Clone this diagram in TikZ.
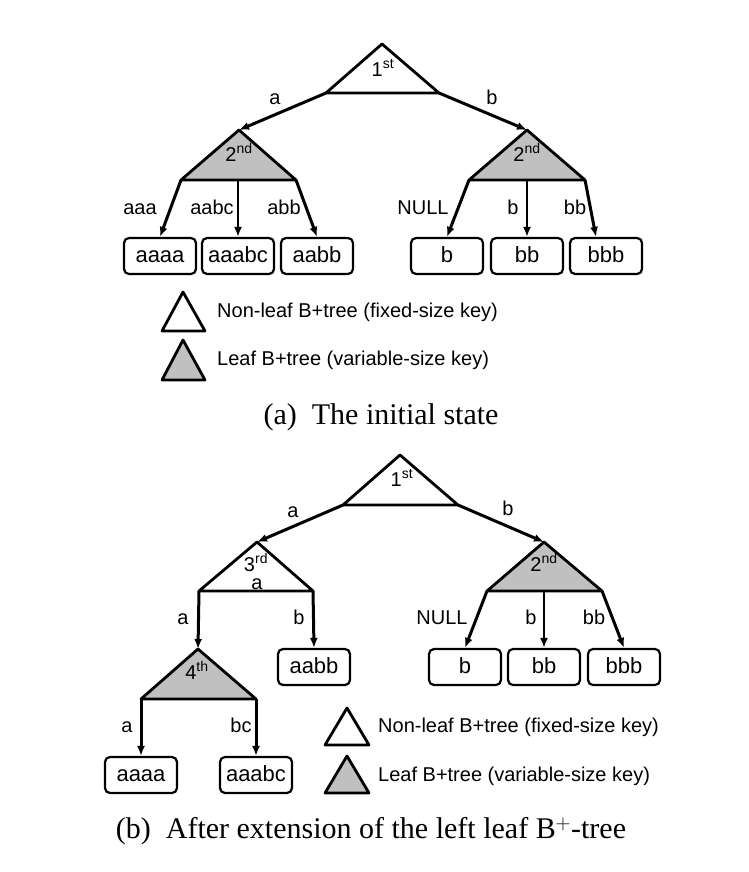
\documentclass[tikz,border=0pt]{standalone}
\usepackage{fontspec}
\newfontfamily\arialfont{Liberation Sans}
\newfontfamily\captfont{Liberation Serif}
\usepackage{tikz}
\usetikzlibrary{arrows.meta,positioning,calc}
\definecolor{trigray}{RGB}{192,192,192}
\tikzset{
  keybox/.style={draw, line width=2.2pt, rounded corners=5pt, minimum width=72pt, minimum height=36pt, inner sep=0pt, text height=16pt, text depth=3pt, font=\arialfont\fontsize{22}{24}\selectfont},
  nonleaf/.style={draw, line width=2.8pt, fill=white, line join=round},
  leaf/.style={draw, line width=2.8pt, fill=trigray, line join=round},
  arr/.style={-{Latex[length=10pt,width=8pt]}, line width=3pt},
  arrt/.style={-{Latex[length=10pt,width=8pt]}, line width=2pt},
  lbl/.style={font=\arialfont\fontsize{20}{24}\selectfont, inner sep=0pt, text height=14.5pt, text depth=2pt},
  capt/.style={font=\captfont\fontsize{30}{34}\selectfont, inner sep=0pt},
}

\begin{document}
\begin{tikzpicture}[x=1pt,y=-1pt]
  \useasboundingbox (0,0) rectangle (748,872);

  % ---------- (a) the initial state ----------
  \coordinate (a1-top) at (382,44);  \coordinate (a1-l) at (326,93);  \coordinate (a1-r) at (439,93);
  \coordinate (a2l-top) at (239,130); \coordinate (a2l-l) at (181,180); \coordinate (a2l-r) at (296,180);
  \coordinate (a2r-top) at (527,130); \coordinate (a2r-l) at (469,180); \coordinate (a2r-r) at (585,180);
  \draw[nonleaf] (a1-top) -- (a1-l) -- (a1-r) -- cycle;
  \draw[leaf] (a2l-top) -- (a2l-l) -- (a2l-r) -- cycle;
  \draw[leaf] (a2r-top) -- (a2r-l) -- (a2r-r) -- cycle;
  \node[lbl] (a1) at (383,70) {1\textsuperscript{st}};
  \node[lbl] (a2l) at (239,155) {2\textsuperscript{nd}};
  \node[lbl] (a2r) at (527,155) {2\textsuperscript{nd}};

  \node[keybox] (aaaa) at (160,256) {aaaa};
  \node[keybox] (aaabc) at (238,256) {aaabc};
  \node[keybox] (aabb) at (317,256) {aabb};
  \node[keybox] (b) at (447,256) {b};
  \node[keybox] (bb) at (527,256) {bb};
  \node[keybox] (bbb) at (606,256) {bbb};

  \draw[arr] (a1-l) -- (a2l-top);
  \draw[arr] (a1-r) -- (a2r-top);
  \draw[arr] (a2l-l) -- (aaaa.north);
  \draw[arrt] (a2l-l -| aaabc.north) -- (aaabc.north);
  \draw[arr] (a2l-r) -- (aabb.north);
  \draw[arr] (a2r-l) -- (b.north);
  \draw[arrt] (a2r-l -| bb.north) -- (bb.north);
  \draw[arr] (a2r-r) -- ([xshift=-10pt]bbb.north);

  \node[lbl] (ka) at (275,98) {a};
  \node[lbl] (kb) at (492,98) {b};
  \node[lbl] (kaaa) at (140,208) {aaa};
  \node[lbl] (kaabc) at (212,208) {aabc};
  \node[lbl] (kabb) at (284,208) {abb};
  \node[lbl] (knull) at (423,208) {NULL};
  \node[lbl] (kbr) at (513,208) {b};
  \node[lbl] (kbbr) at (575,208) {bb};

  % legend
  \draw[nonleaf] (183,292) -- (162,331) -- (205,331) -- cycle;
  \draw[leaf] (183,340) -- (162,380) -- (205,380) -- cycle;
  \node[lbl, anchor=west] (lga1) at (217,311) {Non-leaf B+tree (fixed-size key)};
  \node[lbl, anchor=west] (lga2) at (217,359) {Leaf B+tree (variable-size key)};
  \node[capt] (capa) at (381,417) {(a)\enspace The initial state};

  % ---------- (b) after extension ----------
  \coordinate (b1-top) at (400,455); \coordinate (b1-l) at (343,505); \coordinate (b1-r) at (458,505);
  \coordinate (b3-top) at (257,542); \coordinate (b3-l) at (199,591); \coordinate (b3-r) at (313,591);
  \coordinate (b2-top) at (544,542); \coordinate (b2-l) at (487,591); \coordinate (b2-r) at (602,591);
  \coordinate (b4-top) at (198,649); \coordinate (b4-l) at (141,699); \coordinate (b4-r) at (256,699);
  \draw[nonleaf] (b1-top) -- (b1-l) -- (b1-r) -- cycle;
  \draw[nonleaf] (b3-top) -- (b3-l) -- (b3-r) -- cycle;
  \draw[leaf] (b2-top) -- (b2-l) -- (b2-r) -- cycle;
  \draw[leaf] (b4-top) -- (b4-l) -- (b4-r) -- cycle;
  \node[lbl] (b1) at (402,480) {1\textsuperscript{st}};
  \node[lbl] (b3) at (256,565) {3\textsuperscript{rd}};
  \node[lbl] (b3k) at (257,583) {a};
  \node[lbl] (b2) at (544,565) {2\textsuperscript{nd}};
  \node[lbl] (b4) at (197,673) {4\textsuperscript{th}};

  \node[keybox] (aabb2) at (314,667) {aabb};
  \node[keybox] (b-2) at (465,667) {b};
  \node[keybox] (bb2) at (544,667) {bb};
  \node[keybox] (bbb2) at (624,667) {bbb};
  \node[keybox] (aaaa2) at (141,775) {aaaa};
  \node[keybox] (aaabc2) at (256,775) {aaabc};

  \draw[arr] (b1-l) -- (b3-top);
  \draw[arr] (b1-r) -- (b2-top);
  \draw[arr] (b3-l) -- (b4-top);
  \draw[arr] (b3-r) -- (aabb2.north);
  \draw[arr] (b2-l) -- (b-2.north);
  \draw[arrt] (b2-l -| bb2.north) -- (bb2.north);
  \draw[arr] (b2-r) -- (bbb2.north);
  \draw[arr] (b4-l) -- (aaaa2.north);
  \draw[arr] (b4-r) -- (aaabc2.north);

  \node[lbl] (ja) at (293,511) {a};
  \node[lbl] (jb) at (508,509) {b};
  \node[lbl] (ja3) at (183,618) {a};
  \node[lbl] (jb3) at (299,618) {b};
  \node[lbl] (jnull) at (442,618) {NULL};
  \node[lbl] (jb2) at (531,618) {b};
  \node[lbl] (jbb2) at (594,618) {bb};
  \node[lbl] (ja4) at (127,726) {a};
  \node[lbl] (jbc4) at (241,726) {bc};

  % legend
  \draw[nonleaf] (347,708) -- (325,745) -- (369,745) -- cycle;
  \draw[leaf] (347,756) -- (325,793) -- (369,793) -- cycle;
  \node[lbl, anchor=west] (lgb1) at (378,726) {Non-leaf B+tree (fixed-size key)};
  \node[lbl, anchor=west] (lgb2) at (378,775) {Leaf B+tree (variable-size key)};
  \node[capt] (capb) at (371,831) {(b)\enspace After extension of the left leaf B$^{+}$-tree};
\end{tikzpicture}
\end{document}
